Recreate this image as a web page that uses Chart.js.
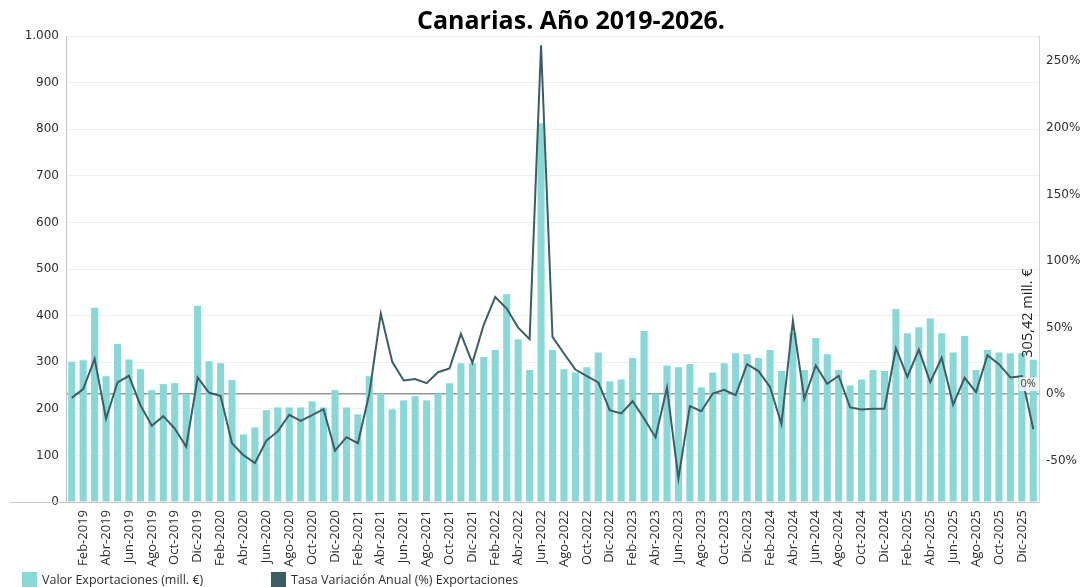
<!DOCTYPE html>
<html>
<head>
<meta charset="utf-8">
<script src="https://cdn.jsdelivr.net/npm/chart.js@4.4.1/dist/chart.umd.min.js"></script>
<style>
  body { margin: 0; background: #fff; }
  #graf_canarias { display: block; }
</style>
</head>
<body>
<canvas id="graf_canarias" width="1086" height="587"></canvas>
<script>
const titulo = 'Canarias. Año 2019-2026.';

const meses = ['Ene-2019','Feb-2019','Mar-2019','Abr-2019','May-2019','Jun-2019','Jul-2019','Ago-2019','Sep-2019','Oct-2019','Nov-2019','Dic-2019',
'Ene-2020','Feb-2020','Mar-2020','Abr-2020','May-2020','Jun-2020','Jul-2020','Ago-2020','Sep-2020','Oct-2020','Nov-2020','Dic-2020',
'Ene-2021','Feb-2021','Mar-2021','Abr-2021','May-2021','Jun-2021','Jul-2021','Ago-2021','Sep-2021','Oct-2021','Nov-2021','Dic-2021',
'Ene-2022','Feb-2022','Mar-2022','Abr-2022','May-2022','Jun-2022','Jul-2022','Ago-2022','Sep-2022','Oct-2022','Nov-2022','Dic-2022',
'Ene-2023','Feb-2023','Mar-2023','Abr-2023','May-2023','Jun-2023','Jul-2023','Ago-2023','Sep-2023','Oct-2023','Nov-2023','Dic-2023',
'Ene-2024','Feb-2024','Mar-2024','Abr-2024','May-2024','Jun-2024','Jul-2024','Ago-2024','Sep-2024','Oct-2024','Nov-2024','Dic-2024',
'Ene-2025','Feb-2025','Mar-2025','Abr-2025','May-2025','Jun-2025','Jul-2025','Ago-2025','Sep-2025','Oct-2025','Nov-2025','Dic-2025',
'Ene-2026'];

// Valor Exportaciones (mill. €)
const valores = [301,304,417,270,339,306,285,240,253,255,232,421,
302,298,262,145,160,197,203,203,203,216,203,240,
203,188,270,233,199,218,227,218,233,255,298,298,
311,326,446,349,283,813,326,285,278,289,321,259,
263,309,367,233,293,289,296,246,278,298,319,317,
309,326,281,363,283,352,317,283,250,263,283,281,
414,362,375,394,362,321,356,283,326,321,319,320,
305.42];

// Tasa Variación Anual (%)
const tasa = [-2.8,3.8,26.5,-18.5,8.8,13.8,-8.3,-23.7,-16.5,-25.8,-39.5,12.5,
1.0,-1.3,-36.8,-45.8,-51.8,-35.0,-28.0,-15.5,-20.0,-15.8,-11.3,-42.5,
-32.3,-36.8,0.5,60.5,24.3,10.3,11.3,8.3,16.5,19.3,45.3,23.5,
52.3,73.0,64.3,50.0,41.3,262.0,43.0,30.5,18.5,13.5,8.8,-12.0,
-14.5,-5.3,-18.3,-32.5,4.8,-63.3,-9.0,-12.8,0.5,3.3,-0.8,22.5,
17.3,5.5,-22.5,55.0,-3.5,21.5,7.8,13.8,-10.0,-11.5,-11.0,-11.0,
34.5,13.0,33.5,9.0,27.3,-7.8,12.3,1.5,29.3,22.5,12.5,13.5,
-26.3];

// marcas de los ejes
const ticks_valor = [0,100,200,300,400,500,600,700,800,900,1000];
const ticks_tasa = [-50,0,50,100,150,200,250];

const nota_valor = '305,42 mill. €';
const nota_tasa = '0%';

const color_barra = '#88d8d8';
const color_linea = '#3b5e66';

// titulo, leyenda y notas del ultimo mes
const extras = {
  id: 'extras',
  afterDraw(chart) {
    const ctx = chart.ctx;
    const area = chart.chartArea;
    const sx = chart.scales.x, sy = chart.scales.y, sy1 = chart.scales.y1;
    ctx.save();

    ctx.strokeStyle = '#c8c8c8';
    ctx.lineWidth = 1;
    ctx.beginPath();
    ctx.moveTo(10, Math.round(area.bottom) + 0.5);
    ctx.lineTo(area.right, Math.round(area.bottom) + 0.5);
    ctx.stroke();

    ctx.fillStyle = '#000';
    ctx.font = 'bold 25px "Open Sans"';
    ctx.textAlign = 'center';
    ctx.textBaseline = 'alphabetic';
    ctx.fillText(titulo, 571, 29);

    // leyenda
    ctx.font = '12.5px "Open Sans"';
    ctx.textAlign = 'left';
    ctx.textBaseline = 'middle';
    const items = [[chart.data.datasets[1], 22], [chart.data.datasets[0], 271]];
    items.forEach(([ds, x0]) => {
      ctx.fillStyle = ds.type === 'line' ? ds.borderColor : ds.backgroundColor;
      ctx.fillRect(x0, 572, 15, 15);
      ctx.fillStyle = '#2e2e2e';
      ctx.fillText(ds.label, x0 + 20, 580);
    });

    // notas
    const last = valores.length - 1;
    const bx = sx.getPixelForValue(last);
    const by = sy.getPixelForValue(valores[last]);
    ctx.save();
    ctx.translate(bx - 5, by - 2);
    ctx.rotate(-Math.PI / 2);
    ctx.font = '14.5px "Open Sans"';
    ctx.fillStyle = '#1e1e1e';
    ctx.textAlign = 'left';
    ctx.textBaseline = 'middle';
    ctx.fillText(nota_valor, 0, 0);
    ctx.restore();

    const zy = sy1.getPixelForValue(0);
    ctx.fillStyle = 'rgba(245,245,245,0.9)';
    ctx.fillRect(bx - 14, zy - 17, 19, 14);
    ctx.font = '11px "Open Sans"';
    ctx.fillStyle = '#404040';
    ctx.textAlign = 'center';
    ctx.fillText(nota_tasa, bx - 5, zy - 10);

    ctx.restore();
  }
};

Chart.defaults.font.family = '"Open Sans"';
Chart.defaults.color = '#2e2e2e';

const lienzo = document.getElementById('graf_canarias').getContext('2d');
const graf_canarias = new Chart(lienzo, {
  data: {
    labels: meses,
    datasets: [{
      type: 'line',
      label: 'Tasa Variación Anual (%) Exportaciones',
      data: tasa,
      yAxisID: 'y1',
      borderColor: color_linea,
      backgroundColor: color_linea,
      borderWidth: 2,
      pointRadius: 0,
      tension: 0,
      order: 0
    }, {
      type: 'bar',
      label: 'Valor Exportaciones (mill. €)',
      data: valores,
      yAxisID: 'y',
      backgroundColor: color_barra,
      borderWidth: 0,
      barPercentage: 0.62,
      categoryPercentage: 1,
      order: 1
    }]
  },
  options: {
    responsive: false,
    animation: false,
    layout: { padding: { top: 36, left: 0, right: 0, bottom: 0 } },
    plugins: {
      legend: { display: false },
      title: { display: false },
      tooltip: { enabled: false }
    },
    scales: {
      x: {
        grid: { display: false, drawTicks: false },
        border: { display: false },
        ticks: {
          autoSkip: false,
          minRotation: 90,
          maxRotation: 90,
          padding: 8,
          font: { size: 13 },
          callback: function (v, i) { return i % 2 === 1 ? meses[i] : ''; }
        },
        afterFit: s => { s.height = 85; }
      },
      y: {
        position: 'left',
        min: 0,
        max: 1000,
        grid: { color: '#efefef', drawTicks: false },
        border: { display: true, color: '#c4c4c4' },
        afterBuildTicks: s => { s.ticks = ticks_valor.map(v => ({ value: v })); },
        ticks: {
          padding: 7,
          font: { family: '"DejaVu Sans"', size: 12 },
          callback: v => v >= 1000 ? Math.floor(v / 1000) + '.' + String(v % 1000).padStart(3, '0') : String(v)
        },
        afterFit: s => { s.width = 66; }
      },
      y1: {
        position: 'right',
        min: -81,
        max: 269,
        z: 1,
        grid: {
          drawTicks: false,
          lineWidth: 1.5,
          color: c => (c.tick && c.tick.value === 0) ? 'rgba(80,80,80,0.6)' : 'rgba(0,0,0,0)'
        },
        border: { display: true, color: '#d4d4d4' },
        afterBuildTicks: s => { s.ticks = ticks_tasa.map(v => ({ value: v })); },
        ticks: {
          padding: 7,
          font: { family: '"DejaVu Sans"', size: 12 },
          callback: v => v + '%'
        },
        afterFit: s => { s.width = 47; }
      }
    }
  },
  plugins: [extras]
});
</script>
</body>
</html>
